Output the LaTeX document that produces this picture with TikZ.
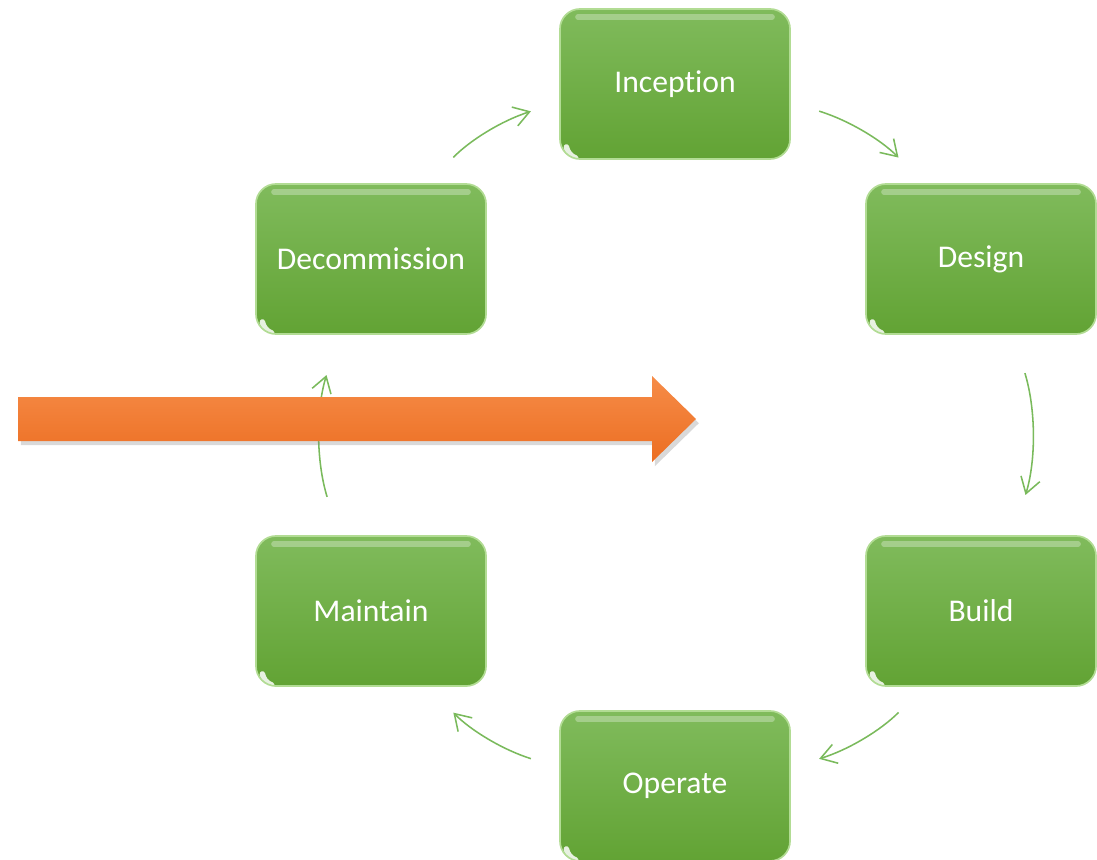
\documentclass[tikz,border=0pt]{standalone}
\usepackage{fontspec}
\setmainfont{Carlito}[Ligatures=NoCommon]
\usetikzlibrary{arrows.meta,positioning,shadows}
\definecolor{boxtop}{RGB}{128,187,92}
\definecolor{boxbot}{RGB}{98,163,52}
\definecolor{boxrim}{RGB}{178,220,148}
\definecolor{flowgreen}{RGB}{122,186,92}
\definecolor{arrtop}{RGB}{246,140,72}
\definecolor{arrbot}{RGB}{236,110,34}

\begin{document}
\begin{tikzpicture}[x=0.025cm, y=-0.025cm,
  stage/.style={rectangle, rounded corners=0.5cm, minimum width=5.75cm, minimum height=3.75cm,
    top color=boxtop, bottom color=boxbot, draw=boxrim, line width=1.2pt,
    text=white, font=\fontsize{22.5}{27}\selectfont,
    path picture={
      \draw[white, opacity=0.3, line width=4pt, line cap=round]
        ([xshift=0.45cm, yshift=-0.2cm]path picture bounding box.north west) --
        ([xshift=-0.45cm, yshift=-0.2cm]path picture bounding box.north east);
      \draw[white, opacity=0.85, line width=4pt, line cap=round]
        ([xshift=0.16cm, yshift=0.3cm]path picture bounding box.south west)
        arc (190:250:0.36cm);
    }},
  flow/.style={->, >={Straight Barb[length=11pt, width=14pt]}, draw=flowgreen, line width=1.1pt}]
\useasboundingbox (0,0) rectangle (1097,860);

\node (incep) at (675,84)  [stage] {Inception};
\node (design) at (981,259) [stage] {Design};
\node (build) at (981,611) [stage] {Build};
\node (oper) at (675,786) [stage] {Operate};
\node (maint) at (371,611) [stage] {Maintain};
\node (decom) at (371,259) [stage] {Decommission};

\draw[flow, shorten <=0.9cm, shorten >=0.74cm] (decom.53) to [bend left=14] (incep.189);
\draw[flow, shorten <=0.74cm, shorten >=0.9cm] (incep.351) to [bend left=14] (design.127);
\draw[flow, shorten <=1cm, shorten >=1.05cm] (design.293) to [bend left=17] (build.67);
\draw[flow, shorten <=0.9cm, shorten >=0.74cm] (build.233) to [bend left=14] (oper.9);
\draw[flow, shorten <=0.74cm, shorten >=0.9cm] (oper.171) to [bend left=14] (maint.307);
\draw[flow, shorten <=1cm, shorten >=1.05cm] (maint.113) to [bend left=17] (decom.247);

% the big orange arrow across the cycle
\draw[draw=none, top color=arrtop, bottom color=arrbot,
  drop shadow={opacity=0.3, shadow xshift=2pt, shadow yshift=-3pt}]
  (18,397) -- (652,397) -- (652,376) -- (696,419) -- (652,462) -- (652,441) -- (18,441) -- cycle;
\end{tikzpicture}
\end{document}
